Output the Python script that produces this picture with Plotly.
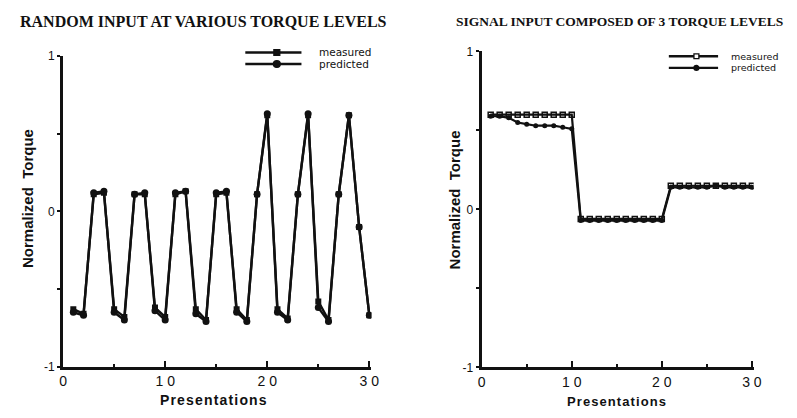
import plotly.graph_objects as go

# ---- data ----
presentations = list(range(1, 31))

random_measured = [-0.63, -0.66, 0.11, 0.12, -0.63, -0.68, 0.11, 0.11, -0.62, -0.68,
                   0.11, 0.13, -0.63, -0.70, 0.11, 0.12, -0.63, -0.70, 0.11, 0.62,
                   -0.63, -0.69, 0.11, 0.62, -0.58, -0.70, 0.11, 0.62, -0.10, -0.67]
random_predicted = [-0.65, -0.67, 0.12, 0.13, -0.65, -0.70, 0.11, 0.12, -0.64, -0.70,
                    0.12, 0.13, -0.66, -0.71, 0.12, 0.13, -0.65, -0.71, 0.11, 0.63,
                    -0.65, -0.70, 0.11, 0.63, -0.62, -0.71, 0.11, 0.62, -0.10, -0.67]

signal_measured = [0.60, 0.60, 0.60, 0.60, 0.60, 0.60, 0.60, 0.60, 0.60, 0.60,
                   -0.06, -0.06, -0.06, -0.06, -0.06, -0.06, -0.06, -0.06, -0.06, -0.06,
                   0.15, 0.15, 0.15, 0.15, 0.15, 0.15, 0.15, 0.15, 0.15, 0.15]
signal_predicted = [0.59, 0.59, 0.58, 0.55, 0.54, 0.53, 0.53, 0.53, 0.52, 0.51,
                    -0.07, -0.07, -0.07, -0.07, -0.07, -0.07, -0.07, -0.07, -0.07, -0.07,
                    0.14, 0.14, 0.14, 0.14, 0.14, 0.15, 0.14, 0.14, 0.14, 0.14]

series_names = ["measured", "predicted"]
x_ticks = [0, 10, 20, 30]
x_ticklabels = ["0", "1 0", "2 0", "3 0"]
y_ticks = [-1, 0, 1]
y_ticklabels = ["-1", "0", "1"]

W, H = 797, 418
black = "#111111"
sans = "Liberation Sans, Arial"
legend_font = "DejaVu Sans"
serif = "Liberation Serif, Times New Roman"

fig = go.Figure()

fig.add_trace(go.Scatter(x=presentations, y=random_measured, mode="lines+markers", name=series_names[0],
                         line=dict(color=black, width=2.4),
                         marker=dict(symbol="square", size=6, color=black),
                         xaxis="x", yaxis="y", showlegend=False))
fig.add_trace(go.Scatter(x=presentations, y=random_predicted, mode="lines+markers", name=series_names[1],
                         line=dict(color=black, width=2.4),
                         marker=dict(symbol="circle", size=7, color=black),
                         xaxis="x", yaxis="y", showlegend=False))
fig.add_trace(go.Scatter(x=presentations, y=signal_measured, mode="lines+markers", name=series_names[0],
                         line=dict(color=black, width=2.2),
                         marker=dict(symbol="square-open", size=5, color=black, line=dict(width=1.5)),
                         xaxis="x2", yaxis="y2", showlegend=False))
fig.add_trace(go.Scatter(x=presentations, y=signal_predicted, mode="lines+markers", name=series_names[1],
                         line=dict(color=black, width=2.2),
                         marker=dict(symbol="circle", size=5, color=black),
                         xaxis="x2", yaxis="y2", showlegend=False))

tickfont = dict(family=sans, size=14, color=black)
axis_common = dict(showgrid=False, zeroline=False, showline=True, linecolor=black, linewidth=3,
                   tickcolor=black, tickfont=tickfont)


def xaxis_cfg(domain, anchor):
    return dict(axis_common, domain=domain, anchor=anchor, range=[0, 30.2],
                tickmode="array", tickvals=x_ticks, ticktext=x_ticklabels,
                ticks="inside", ticklen=6, tickwidth=2,
                minor=dict(tickvals=[5, 15, 25], ticks="inside", ticklen=3, tickwidth=2, tickcolor=black))


def yaxis_cfg(domain, anchor):
    return dict(axis_common, domain=domain, anchor=anchor, range=[-1, 1],
                tickmode="array", tickvals=y_ticks, ticktext=y_ticklabels,
                ticks="outside", ticklen=3, tickwidth=2,
                minor=dict(tickvals=[-0.5, 0.5], ticks="outside", ticklen=3, tickwidth=2, tickcolor=black),
                tickfont=dict(family=sans, size=12, color=black))


shapes = []
annotations = []


def px(x):
    return x / W


def py(y):
    return 1 - y / H


def label(text, x, y, size, family=sans, angle=0, xanchor="center"):
    annotations.append(dict(text=text, x=px(x), y=py(y), xref="paper", yref="paper", showarrow=False,
                            xanchor=xanchor, yanchor="middle", textangle=angle,
                            font=dict(family=family, size=size, color=black)))


def legend_entry(x0, x1, y, mx, symbol, msize, text, tx, fsize, filled=True):
    shapes.append(dict(type="line", xref="paper", yref="paper", x0=px(x0), x1=px(x1), y0=py(y), y1=py(y),
                       line=dict(color=black, width=2.4)))
    r = msize / 2
    fill = black if filled else "white"
    shapes.append(dict(type="rect" if symbol == "square" else "circle", xref="paper", yref="paper",
                       x0=px(mx - r), x1=px(mx + r), y0=py(y + r), y1=py(y - r),
                       fillcolor=fill, line=dict(color=black, width=1.3)))
    label(text, tx, y, fsize, family=legend_font, xanchor="left")


# legends
legend_entry(245, 302, 47, 277, "square", 6, series_names[0], 318, 10.5)
legend_entry(245, 302, 59, 277, "circle", 7, series_names[1], 318, 10.5)
legend_entry(675, 725, 51, 703, "square", 5, series_names[0], 736, 9.5, filled=False)
legend_entry(675, 725, 63, 703, "circle", 5, series_names[1], 736, 9.5)

# titles
label("<b>RANDOM INPUT AT VARIOUS TORQUE LEVELS</b>", 203, 15, 16, family=serif)
label("<b>SIGNAL INPUT COMPOSED OF 3 TORQUE LEVELS</b>", 625, 15, 13.5, family=serif)

# axis titles
hs = "\u200a"
spaced = hs.join("Presentations")
label("<b>" + spaced + "</b>", 213, 407, 14)
label("<b>" + spaced + "</b>", 622, 408, 13)
label("<b>Normalized  Torque</b>", 24, 198, 15, angle=-90)
label("<b>Normalized  Torque</b>", 457, 200, 15, angle=-90)

fig.update_layout(
    width=W, height=H, margin=dict(l=0, r=0, t=0, b=0),
    paper_bgcolor="white", plot_bgcolor="white", showlegend=False,
    xaxis=xaxis_cfg([0.0753, 0.468], "y"),
    yaxis=yaxis_cfg([0.110, 0.878], "x"),
    xaxis2=xaxis_cfg([0.6085, 0.955], "y2"),
    yaxis2=yaxis_cfg([0.1077, 0.890], "x2"),
    shapes=shapes,
    annotations=annotations,
)

fig.write_html("out.html")
